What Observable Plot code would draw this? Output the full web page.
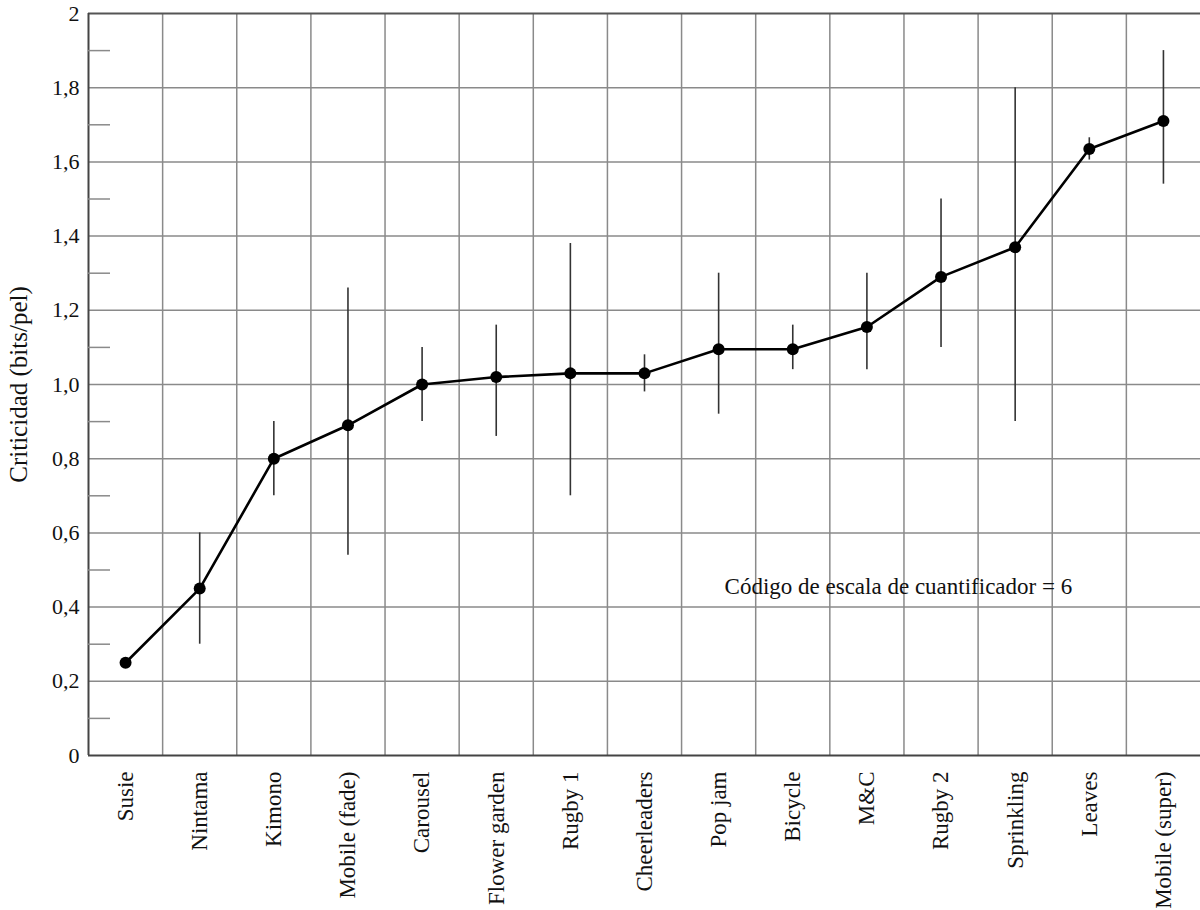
<!DOCTYPE html>
<html>
<head>
<meta charset="utf-8">
<script src="https://cdn.jsdelivr.net/npm/d3@7"></script>
<script src="https://cdn.jsdelivr.net/npm/@observablehq/plot@0.6"></script>
<style>
  html, body { margin: 0; padding: 0; background: #fff; }
  #chart svg { display: block; font-family: "Liberation Serif", "DejaVu Serif", serif; }
</style>
</head>
<body>
<div id="chart"></div>
<script>
const categories = ["Susie", "Nintama", "Kimono", "Mobile (fade)", "Carousel", "Flower garden", "Rugby 1", "Cheerleaders", "Pop jam", "Bicycle", "M&C", "Rugby 2", "Sprinkling", "Leaves", "Mobile (super)"];
const criticality = [0.25, 0.45, 0.80, 0.89, 1.00, 1.02, 1.03, 1.03, 1.095, 1.095, 1.155, 1.29, 1.37, 1.635, 1.71];
const errLow  = [null, 0.30, 0.70, 0.54, 0.90, 0.86, 0.70, 0.98, 0.92, 1.04, 1.04, 1.10, 0.90, 1.605, 1.54];
const errHigh = [null, 0.60, 0.90, 1.26, 1.10, 1.16, 1.38, 1.08, 1.30, 1.16, 1.30, 1.50, 1.80, 1.665, 1.90];
const yTicks = [0, 0.2, 0.4, 0.6, 0.8, 1.0, 1.2, 1.4, 1.6, 1.8, 2];
const yMinor = [0.1, 0.3, 0.5, 0.7, 0.9, 1.1, 1.3, 1.5, 1.7, 1.9];
const yTitle = "Criticidad (bits/pel)";
const annotation = [{ idx: 8.08, value: 0.455, text: "Código de escala de cuantificador = 6" }];

const data = categories.map((c, i) => ({ i, name: c, v: criticality[i], lo: errLow[i], hi: errHigh[i] }));
const bars = data.filter(d => d.lo != null);
const xBoundaries = d3.range(categories.length - 1).map(i => i + 0.5);

const fmt = v => {
  if (v === 0) return "0";
  if (v === 2) return "2";
  return v.toFixed(1).replace(".", ",");
};

const chart = Plot.plot({
  width: 1200,
  height: 910,
  marginLeft: 88,
  marginRight: 0,
  marginTop: 13,
  marginBottom: 155,
  style: { fontFamily: "'Liberation Serif', serif", background: "#fff", color: "#111" },
  x: { type: "linear", domain: [-0.5, categories.length - 0.5] },
  y: { domain: [0, 2] },
  marks: [
    Plot.ruleX(xBoundaries, { stroke: "#8a8a8a", strokeWidth: 1.5 }),
    Plot.ruleY(yTicks.slice(1, -1), { stroke: "#8a8a8a", strokeWidth: 1.5 }),
    Plot.ruleY([2], { stroke: "#555", strokeWidth: 2 }),
    Plot.ruleY([0], { stroke: "#444", strokeWidth: 2 }),
    Plot.ruleX([-0.5], { stroke: "#444", strokeWidth: 2 }),
    Plot.axisY(yMinor, { tickSize: -22, tickFormat: () => "", stroke: "#8a8a8a", strokeWidth: 1.5, label: null }),
    Plot.axisY(yTicks, {
      tickSize: 0, tickPadding: 9, tickFormat: fmt, fontSize: 22, label: null
    }),
    Plot.axisY([], {
      tickSize: 0, fontSize: 25,
      label: yTitle, labelAnchor: "center", labelOffset: 79, labelArrow: "none"
    }),
    Plot.axisX(d3.range(categories.length), {
      tickSize: 0, tickPadding: 16, tickRotate: -90, fontSize: 23,
      tickFormat: i => categories[i], label: null
    }),
    Plot.ruleX(bars, { x: "i", y1: "lo", y2: "hi", stroke: "#333", strokeWidth: 1.6 }),
    Plot.line(data, { x: "i", y: "v", stroke: "#000", strokeWidth: 2.6 }),
    Plot.dot(data, { x: "i", y: "v", r: 6, fill: "#000", stroke: "none" }),
    Plot.text(annotation, { x: "idx", y: "value", text: "text", textAnchor: "start", fontSize: 23, fill: "#111" })
  ]
});
document.getElementById("chart").appendChild(chart);
</script>
</body>
</html>
